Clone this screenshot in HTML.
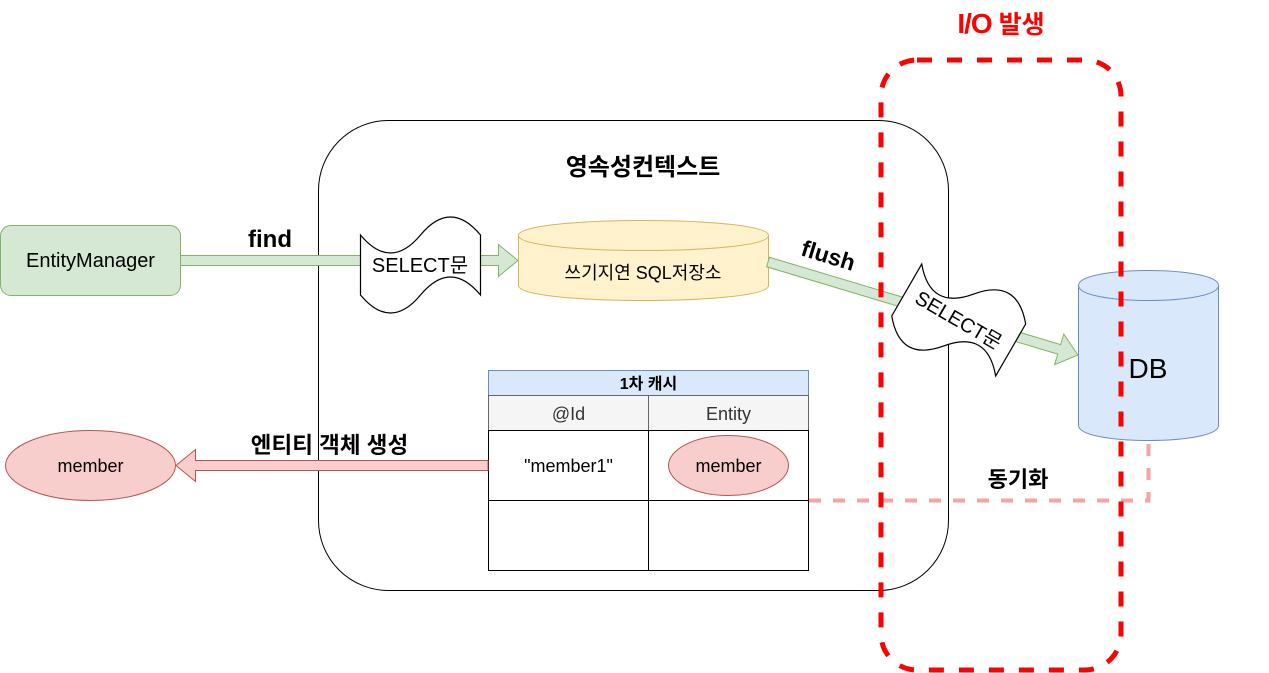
<!DOCTYPE html>
<html>
<head>
<meta charset="utf-8">
<style>
html,body{margin:0;padding:0;background:#fff;width:1269px;height:673px;overflow:hidden}
svg{display:block}
text{font-family:"Liberation Sans","Noto Sans CJK KR",sans-serif;text-anchor:middle;fill:#000}
.b{font-weight:bold}
</style>
</head>
<body>
<svg width="1269" height="673" viewBox="0 0 1269 673" xmlns="http://www.w3.org/2000/svg">
<rect x="318.5" y="120.5" width="630" height="470" rx="70" ry="70" fill="#fff" stroke="#000" stroke-width="1"/>

<!-- EntityManager -->
<rect x="0.5" y="225.5" width="180" height="70" rx="10.5" ry="10.5" fill="#d5e8d4" stroke="#82b366"/>
<text x="90.5" y="267" font-size="20">EntityManager</text>
<text x="270" y="247" font-size="24" class="b">find</text>

<!-- find arrow -->
<polygon points="180.5,255.5 498.5,255.5 498.5,244.5 518,260.5 498.5,276.5 498.5,265.5 180.5,265.5" fill="#d5e8d4" stroke="#82b366"/>

<!-- tape 1 -->
<path d="M360.5 235 Q390.5 271 420.5 235 Q450.5 199 480.5 235 L480.5 295 Q450.5 259 420.5 295 Q390.5 331 360.5 295 Z" fill="#fff" stroke="#000" stroke-width="1.2"/>
<text x="420" y="272" font-size="20">SELECT문</text>

<!-- write-behind cylinder -->
<path d="M518.5 235.5 C518.5 215.5 768.5 215.5 768.5 235.5 L768.5 285.5 C768.5 305.5 518.5 305.5 518.5 285.5 Z" fill="#fff2cc" stroke="#d6b656"/>
<path d="M518.5 235.5 C518.5 255.5 768.5 255.5 768.5 235.5" fill="none" stroke="#d6b656"/>
<text x="643" y="279" font-size="18">쓰기지연 SQL저장소</text>
<text x="643" y="175" font-size="24" class="b">영속성컨텍스트</text>

<!-- flush arrow -->
<g transform="translate(768 262) rotate(16.7)">
<polygon points="0,-5 304,-5 304,-16 323.6,0 304,16 304,5 0,5" fill="#d5e8d4" stroke="#82b366"/>
</g>
<text x="0" y="0" font-size="23" class="b" transform="translate(826 263) rotate(17)">flush</text>

<!-- tape 2 -->
<g transform="translate(958.7 320) rotate(30) translate(-420.5 -265)">
<path d="M360.5 235 Q390.5 271 420.5 235 Q450.5 199 480.5 235 L480.5 295 Q450.5 259 420.5 295 Q390.5 331 360.5 295 Z" fill="#fff" stroke="#000" stroke-width="1.2"/>
<text x="420.5" y="272" font-size="20">SELECT문</text>
</g>

<!-- table -->
<rect x="488.5" y="370.5" width="320" height="25" fill="#dae8fc" stroke="#6c8ebf"/>
<text x="648.5" y="389" font-size="16" class="b">1차 캐시</text>
<rect x="488.5" y="395.5" width="160" height="35" fill="#f5f5f5" stroke="#666"/>
<rect x="648.5" y="395.5" width="160" height="35" fill="#f5f5f5" stroke="#666"/>
<text x="568.5" y="420" font-size="18" style="fill:#333">@Id</text>
<text x="728.5" y="420" font-size="18" style="fill:#333">Entity</text>
<rect x="488.5" y="430.5" width="160" height="70" fill="#fff" stroke="#000"/>
<rect x="648.5" y="430.5" width="160" height="70" fill="#fff" stroke="#000"/>
<rect x="488.5" y="500.5" width="160" height="70" fill="#fff" stroke="#000"/>
<rect x="648.5" y="500.5" width="160" height="70" fill="#fff" stroke="#000"/>
<text x="568.5" y="472" font-size="18">"member1"</text>
<ellipse cx="728.5" cy="465.5" rx="60" ry="30" fill="#f8cecc" stroke="#b85450"/>
<text x="728.5" y="472" font-size="18">member</text>

<!-- entity creation arrow -->
<polygon points="488,460.5 195.5,460.5 195.5,449.5 176,465.5 195.5,481.5 195.5,470.5 488,470.5" fill="#f8cecc" stroke="#b85450"/>
<ellipse cx="90.5" cy="465.5" rx="85" ry="35" fill="#f8cecc" stroke="#b85450"/>
<text x="90.5" y="472" font-size="18">member</text>
<text x="329.5" y="453" font-size="22.5" class="b">엔티티 객체 생성</text>

<!-- DB -->
<path d="M1078.5 285.5 C1078.5 265.5 1218.5 265.5 1218.5 285.5 L1218.5 425.5 C1218.5 445.5 1078.5 445.5 1078.5 425.5 Z" fill="#dae8fc" stroke="#6c8ebf"/>
<path d="M1078.5 285.5 C1078.5 305.5 1218.5 305.5 1218.5 285.5" fill="none" stroke="#6c8ebf"/>
<text x="1148" y="378" font-size="28">DB</text>

<!-- sync -->
<path d="M809 500.5 L1148.5 500.5 L1148.5 444" fill="none" stroke="#f5a3a3" stroke-width="4" stroke-dasharray="12 12"/>
<text x="1018" y="487" font-size="22" class="b">동기화</text>

<!-- IO box -->
<path d="M917 60 L1085 60 A36 36 0 0 1 1121 96 L1121 634 A36 36 0 0 1 1085 670 L917 670 A36 36 0 0 1 881 634 L881 96 A36 36 0 0 1 917 60 Z" fill="none" stroke="#ff0000" stroke-width="5" stroke-dasharray="15 15"/>
<text x="1001" y="33" font-size="25" class="b" style="fill:#ff0000"><tspan font-size="28" letter-spacing="-1">I/O</tspan> 발생</text>
</svg>
</body>
</html>
